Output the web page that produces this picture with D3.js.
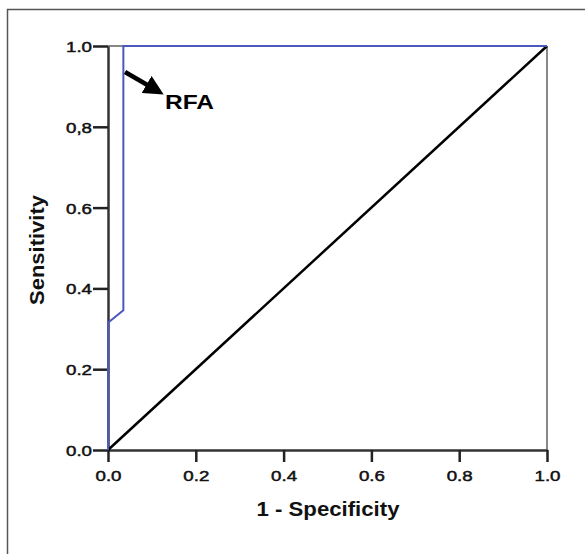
<!DOCTYPE html>
<html><head><meta charset="utf-8">
<script src="https://cdn.jsdelivr.net/npm/d3@7/dist/d3.min.js"></script>
<style>body{margin:0;background:#fff}svg{display:block}</style>
</head><body>
<script>
const rocX = [0, 0, 0.035, 0.035, 1];
const rocY = [0, 0.315, 0.346, 1, 1];
const refX = [0, 1];
const refY = [0, 1];
const xTicks = [0, 0.2, 0.4, 0.6, 0.8, 1.0];
const xTickLabels = ["0.0", "0.2", "0.4", "0.6", "0.8", "1.0"];
const yTicks = [0, 0.2, 0.4, 0.6, 0.8, 1.0];
const yTickLabels = ["0.0", "0.2", "0.4", "0.6", "0,8", "1.0"];

const W = 585, H = 554;
const svg = d3.select("body").append("svg").attr("width", W).attr("height", H);
const x = d3.scaleLinear().domain([0, 1]).range([108, 547]);
const y = d3.scaleLinear().domain([0, 1]).range([450, 46]);
const font = "'Liberation Sans', Arial, sans-serif";

// outer frame
svg.append("rect").attr("x", 7.5).attr("y", 9.5).attr("width", 600).attr("height", 600)
  .attr("fill", "none").attr("stroke", "#555").attr("stroke-width", 1.5);

// plot right border / top
svg.append("line").attr("x1", x(1)).attr("x2", x(1)).attr("y1", y(1)).attr("y2", y(0))
  .attr("stroke", "#888").attr("stroke-width", 2);
svg.append("line").attr("x1", x(0)).attr("x2", x(1)).attr("y1", y(1)).attr("y2", y(1))
  .attr("stroke", "#888").attr("stroke-width", 2);

// axes
const xAxis = d3.axisBottom(x).tickValues(xTicks).tickFormat((d, i) => xTickLabels[i]).tickSize(12).tickSizeOuter(0);
const yAxis = d3.axisLeft(y).tickValues(yTicks).tickFormat((d, i) => yTickLabels[i]).tickSize(15).tickSizeOuter(0);
const gx = svg.append("g").attr("transform", `translate(0,${y(0)})`).call(xAxis);
const gy = svg.append("g").attr("transform", `translate(${x(0)},0)`).call(yAxis);
[gx, gy].forEach(g => {
  g.attr("font-size", null).attr("font-family", null);
  g.select(".domain").attr("stroke", "#333").attr("stroke-width", 2.5);
  g.selectAll(".tick line").attr("stroke", "#222").attr("stroke-width", 2.5);
  g.selectAll(".tick text").attr("font-family", font).attr("font-size", 15.5).attr("fill", "#111")
    .attr("stroke", "#111").attr("stroke-width", 0.5)
    .attr("textLength", 26).attr("lengthAdjust", "spacingAndGlyphs");
});
gx.selectAll(".tick text").attr("y", 31).attr("dy", null);
gy.selectAll(".tick text").attr("x", -16).attr("dy", "0.36em");

// diagonal
const line = d3.line().x(d => x(d[0])).y(d => y(d[1]));
svg.append("path").datum(refX.map((v, i) => [v, refY[i]])).attr("d", line)
  .attr("fill", "none").attr("stroke", "#000").attr("stroke-width", 2.5);

// ROC
svg.append("path").datum(rocX.map((v, i) => [v, rocY[i]])).attr("d", line)
  .attr("fill", "none").attr("stroke", "#4a58c0").attr("stroke-width", 2);

// arrow annotation
svg.append("defs").append("marker").attr("id", "ah").attr("viewBox", "0 0 10 10")
  .attr("refX", 2).attr("refY", 5).attr("markerWidth", 4.4).attr("markerHeight", 4.4)
  .attr("orient", "auto").attr("markerUnits", "strokeWidth")
  .append("path").attr("d", "M0,0 L10,5 L0,10 z").attr("fill", "#000");
svg.append("line").attr("x1", 125).attr("y1", 72).attr("x2", 150).attr("y2", 86.5)
  .attr("stroke", "#000").attr("stroke-width", 4.5).attr("marker-end", "url(#ah)");
svg.append("text").attr("x", 165).attr("y", 109).text("RFA")
  .attr("font-family", font).attr("font-weight", "bold").attr("font-size", 21).attr("fill", "#000")
  .attr("textLength", 49).attr("lengthAdjust", "spacingAndGlyphs");

// axis titles
svg.append("text").attr("x", 328).attr("y", 516).attr("text-anchor", "middle").text("1 - Specificity")
  .attr("font-family", font).attr("font-weight", "bold").attr("font-size", 19.5).attr("fill", "#111")
  .attr("textLength", 143).attr("lengthAdjust", "spacingAndGlyphs");
svg.append("text").attr("transform", `translate(44,250) rotate(-90)`).attr("text-anchor", "middle").text("Sensitivity")
  .attr("font-family", font).attr("font-weight", "bold").attr("font-size", 19.5).attr("fill", "#111")
  .attr("textLength", 110).attr("lengthAdjust", "spacingAndGlyphs");
</script>
</body></html>
